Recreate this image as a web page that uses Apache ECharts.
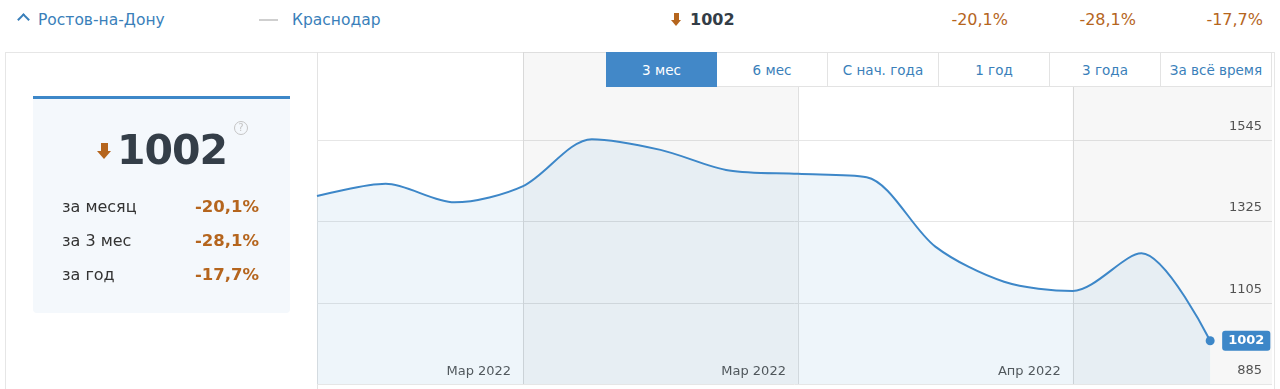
<!DOCTYPE html>
<html>
<head>
<meta charset="utf-8">
<script src="https://cdn.jsdelivr.net/npm/echarts@6/dist/echarts.min.js"></script>
<style>
  html, body { margin: 0; padding: 0; background: #fff; }
  body { width: 1280px; height: 389px; overflow: hidden; position: relative; font-family: "DejaVu Sans", Verdana, sans-serif; }
  .abs { position: absolute; white-space: nowrap; }
  .blue { color: #3a7fba; }
  .brown { color: #b5651d; }
  .arrow { position: absolute; }
  .arrow .stem { position: absolute; background: #b5651d; }
  .arrow .head { position: absolute; width: 0; height: 0; border-style: solid; border-color: #b5651d transparent transparent transparent; }
  #frame { position: absolute; left: 5px; top: 52px; width: 1270px; height: 345px; border: 1px solid #e6e6e6; box-sizing: border-box; }
  #divider { position: absolute; left: 317px; top: 52px; width: 1px; height: 337px; background: #e3e3e3; }
  #card { position: absolute; left: 33px; top: 96px; width: 257px; height: 217px; background: #f4f8fc; border-top: 3px solid #3d87c8; box-sizing: border-box; border-radius: 0 0 4px 4px; }
  #chart { position: absolute; left: 0; top: 0; width: 1280px; height: 389px; z-index: 1; }
  #buttons { position: absolute; left: 606px; top: 52px; height: 35px; z-index: 2; display: flex; }
  #buttons div { width: 111px; height: 35px; box-sizing: border-box; border: 1px solid #e3e3e3; border-left: none; background: #fff; color: #3a7fba; font-size: 13.5px; line-height: 34px; text-align: center; }
  #buttons div:first-child { border-left: 1px solid #e3e3e3; }
  #buttons div.active { background: #4288c8; border-color: #4288c8; color: #fff; }
</style>
</head>
<body>
<div id="frame"></div>
<div id="divider"></div>

<!-- header row -->
<div class="abs" style="left:19px;top:15px;width:7px;height:7px;border-left:2px solid #3a7fba;border-top:2px solid #3a7fba;transform:rotate(45deg);transform-origin:center;"></div>
<div class="abs blue" id="city1" style="left:38px;top:10px;font-size:15.5px;line-height:20px;"></div>
<div class="abs" style="left:259px;top:19px;width:19px;height:2px;background:#cfcfcf;"></div>
<div class="abs blue" id="city2" style="left:292px;top:10px;font-size:15.5px;line-height:20px;"></div>
<div class="arrow" style="left:671px;top:13px;width:10px;height:13px;">
  <div class="stem" style="left:2.5px;top:0;width:5px;height:7px;"></div>
  <div class="head" style="left:0;top:7px;border-width:6px 5px 0 5px;"></div>
</div>
<div class="abs" id="hdrValue" style="left:690px;top:10px;font-size:16px;line-height:20px;font-weight:bold;color:#333d47;"></div>
<div class="abs brown" id="hdrP1" style="right:272px;top:10px;font-size:16px;line-height:20px;"></div>
<div class="abs brown" id="hdrP2" style="right:144px;top:10px;font-size:16px;line-height:20px;"></div>
<div class="abs brown" id="hdrP3" style="right:17px;top:10px;font-size:16px;line-height:20px;"></div>

<!-- left card -->
<div id="card"></div>
<div class="arrow" style="left:97px;top:143px;width:14px;height:16px;z-index:2;">
  <div class="stem" style="left:3.5px;top:0;width:7px;height:8px;"></div>
  <div class="head" style="left:0;top:8px;border-width:8px 7px 0 7px;"></div>
</div>
<div class="abs" id="bigValue" style="left:117px;top:127px;font-size:41px;line-height:46px;font-weight:bold;color:#343e48;letter-spacing:-1px;z-index:2;"></div>
<div class="abs" style="left:234px;top:121px;width:14px;height:14px;border:1px solid #c4c4c4;border-radius:50%;box-sizing:border-box;color:#c4c4c4;font-size:10px;line-height:12px;text-align:center;z-index:2;">?</div>
<div id="rows"></div>

<div id="buttons"></div>
<div id="chart"></div>

<script>
// ---- data ----
const seriesName = 'Ростов-на-Дону';
const compareName = 'Краснодар';
const dates = ['10.02.2022','17.02.2022','24.02.2022','03.03.2022','10.03.2022','17.03.2022','24.03.2022',
               '31.03.2022','07.04.2022','14.04.2022','21.04.2022','28.04.2022','05.05.2022','12.05.2022'];
const values = [1394, 1427, 1377, 1421, 1548, 1519, 1463, 1454, 1445, 1257, 1162, 1137, 1239, 1002];
const xTickIdx = [3, 7, 11];
const xTickLabels = ['Мар 2022', 'Мар 2022', 'Апр 2022'];
const yTicks = [885, 1105, 1325, 1545];
const periodLabels = ['за месяц', 'за 3 мес', 'за год'];
const periodChanges = ['-20,1%', '-28,1%', '-17,7%'];
const rangeButtons = ['3 мес', '6 мес', 'С нач. года', '1 год', '3 года', 'За всё время'];

// ---- html texts ----
const last = values[values.length - 1];
document.getElementById('city1').textContent = seriesName;
document.getElementById('city2').textContent = compareName;
document.getElementById('hdrValue').textContent = String(last);
document.getElementById('bigValue').textContent = String(last);
['hdrP1','hdrP2','hdrP3'].forEach((id, i) => document.getElementById(id).textContent = periodChanges[i]);
const rows = document.getElementById('rows');
periodLabels.forEach((lab, i) => {
  const top = 197 + i * 34;
  const a = document.createElement('div');
  a.className = 'abs'; a.style.cssText = `left:62px;top:${top}px;font-size:16px;line-height:20px;color:#333;z-index:2;`;
  a.textContent = lab; rows.appendChild(a);
  const b = document.createElement('div');
  b.className = 'abs brown'; b.style.cssText = `right:1021px;top:${top}px;font-size:16.5px;line-height:20px;font-weight:bold;z-index:2;`;
  b.textContent = periodChanges[i]; rows.appendChild(b);
});
const btns = document.getElementById('buttons');
rangeButtons.forEach((t, i) => {
  const d = document.createElement('div');
  if (i === 0) d.className = 'active';
  d.textContent = t; btns.appendChild(d);
});

// ---- chart ----
const xMax = 13.9;
const yMin = 885, yMax = 1784;
const chart = echarts.init(document.getElementById('chart'), null, { renderer: 'canvas' });
const pts = values.map((v, i) => [i, v]);
chart.setOption({
  animation: false,
  backgroundColor: 'transparent',
  grid: { left: 317, right: 8, top: 52, bottom: 5 },
  xAxis: {
    type: 'value', min: 0, max: xMax,
    axisLine: { show: false },
    axisTick: { show: false, customValues: xTickIdx },
    axisLabel: {
      customValues: xTickIdx, inside: true, margin: 6, align: 'right', padding: [0, 12, 0, 0],
      color: '#555', fontSize: 13, fontFamily: 'DejaVu Sans',
      formatter: v => xTickLabels[xTickIdx.indexOf(v)] || ''
    },
    splitLine: { show: true, lineStyle: { color: '#e0e0e0', width: 1 } }
  },
  yAxis: {
    type: 'value', position: 'right', min: yMin, max: yMax,
    axisLine: { show: false },
    axisTick: { show: false, customValues: yTicks },
    axisLabel: {
      customValues: yTicks, inside: true, margin: 10, verticalAlign: 'bottom', padding: [0, 0, 7, 0],
      color: '#555', fontSize: 13, fontFamily: 'DejaVu Sans',
      formatter: v => String(v)
    },
    splitLine: { show: true, lineStyle: { color: '#e6e6e6', width: 1 } }
  },
  series: [{
    name: seriesName,
    type: 'line',
    data: pts,
    smooth: 0.3,
    showSymbol: true,
    symbol: 'circle',
    symbolSize: (val, p) => p.dataIndex === values.length - 1 ? 9 : 0,
    itemStyle: { color: '#3d87c8' },
    lineStyle: { color: '#3d87c8', width: 2 },
    areaStyle: { color: 'rgba(61,135,200,0.12)', origin: 'start' },
    endLabel: {
      show: true, distance: 12, formatter: p => String(p.value[1]),
      backgroundColor: '#3d87c8', color: '#fff', fontWeight: 'bold', fontSize: 13,
      fontFamily: 'DejaVu Sans', padding: [4, 6, 3, 6], borderRadius: 3
    },
    markArea: {
      silent: true,
      itemStyle: { color: 'rgba(0,0,0,0.03)' },
      data: [
        [{ xAxis: xTickIdx[0] }, { xAxis: xTickIdx[1] }],
        [{ xAxis: xTickIdx[2] }, { xAxis: xMax }]
      ]
    }
  }]
});
</script>
</body>
</html>
